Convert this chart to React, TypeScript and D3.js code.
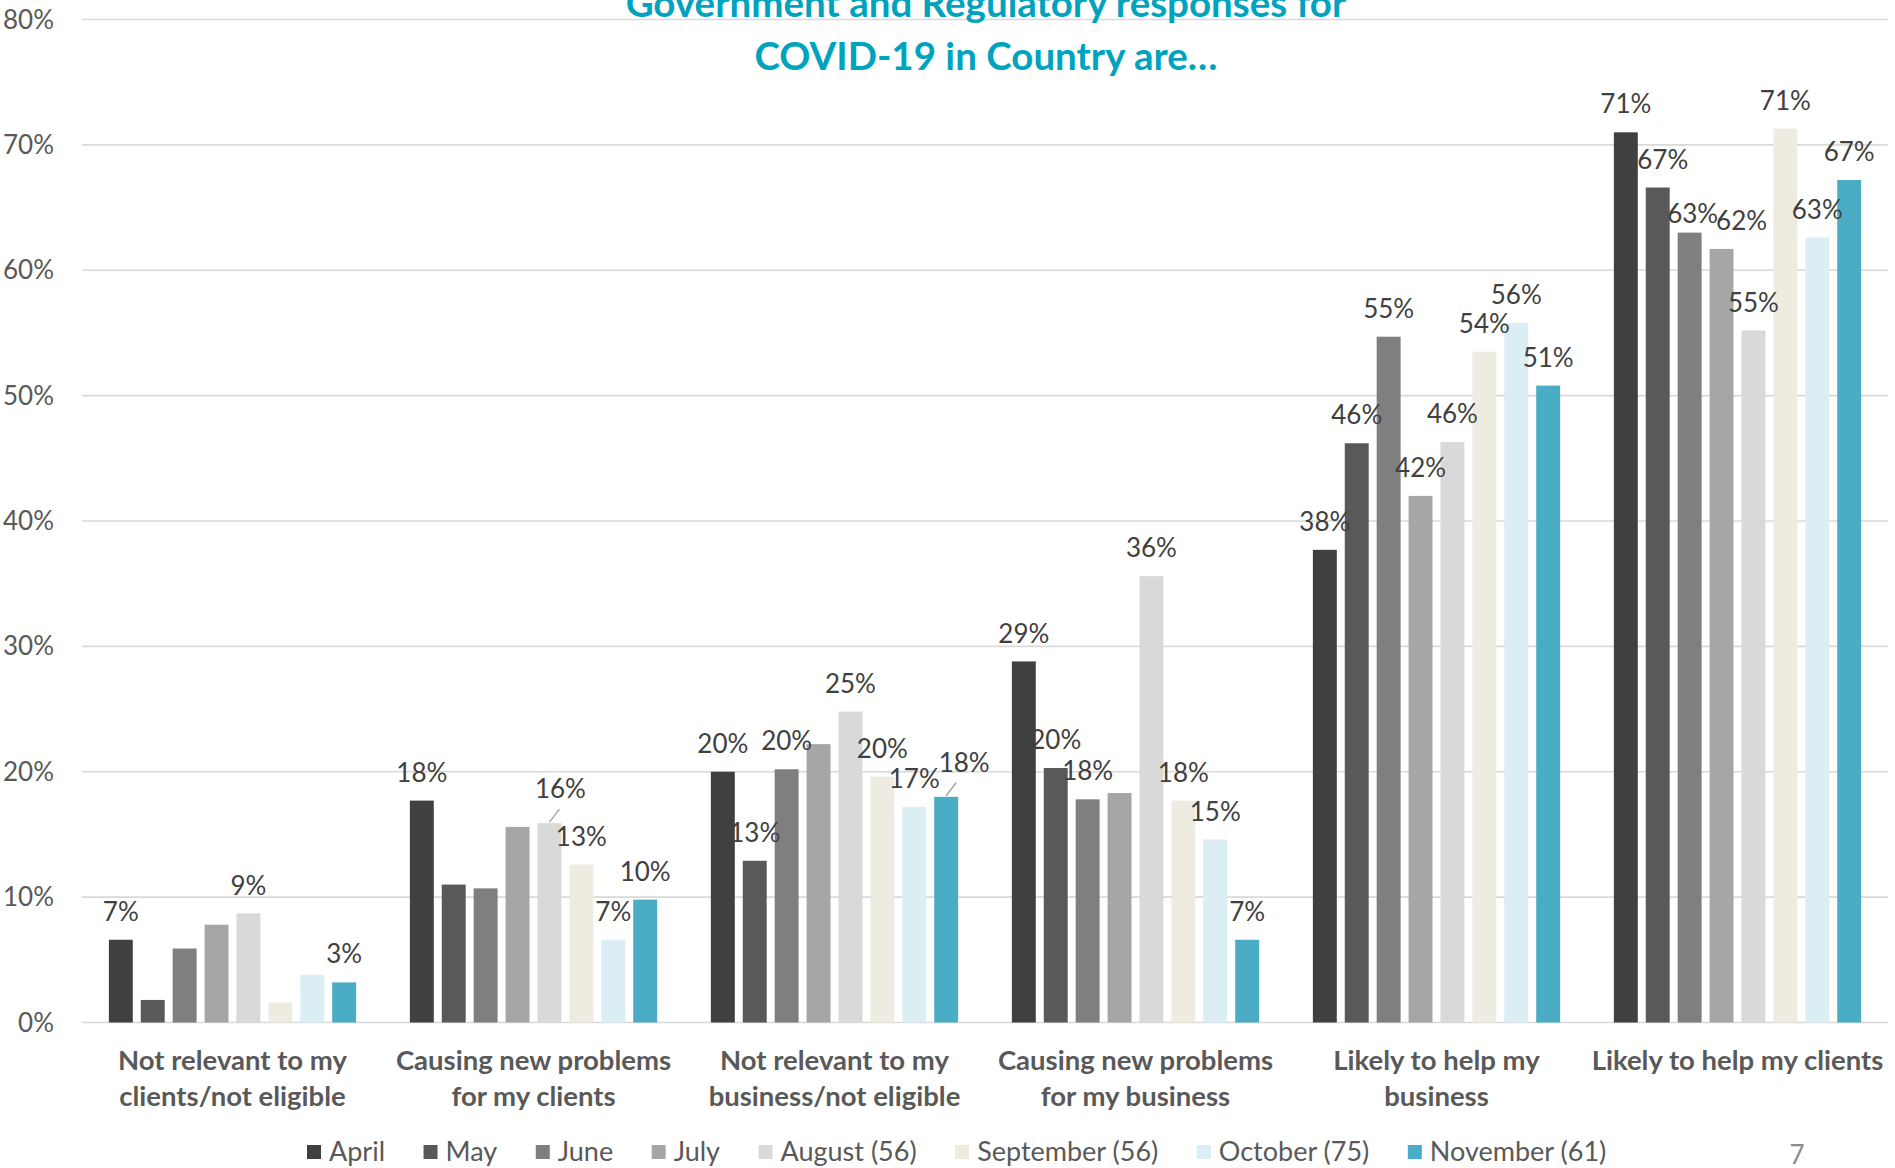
import React, { useEffect, useRef } from "react";
import * as d3 from "d3";

const categories = [
  "Not relevant to my\nclients/not eligible",
  "Causing new problems\nfor my clients",
  "Not relevant to my\nbusiness/not eligible",
  "Causing new problems\nfor my business",
  "Likely to help my\nbusiness",
  "Likely to help my clients",
];

const series = [
  "April",
  "May",
  "June",
  "July",
  "August (56)",
  "September (56)",
  "October (75)",
  "November (61)",
];

const aprilValues = [6.6, 17.7, 20.0, 28.8, 37.7, 71.0];
const mayValues = [1.8, 11.0, 12.9, 20.3, 46.2, 66.6];
const juneValues = [5.9, 10.7, 20.2, 17.8, 54.7, 63.0];
const julyValues = [7.8, 15.6, 22.2, 18.3, 42.0, 61.7];
const augustValues = [8.7, 15.9, 24.8, 35.6, 46.3, 55.2];
const septemberValues = [1.6, 12.6, 19.6, 17.7, 53.5, 71.3];
const octoberValues = [3.8, 6.6, 17.2, 14.6, 55.8, 62.6];
const novemberValues = [3.2, 9.8, 18.0, 6.6, 50.8, 67.2];

const seriesValues = [
  aprilValues,
  mayValues,
  juneValues,
  julyValues,
  augustValues,
  septemberValues,
  octoberValues,
  novemberValues,
];

const seriesColors = [
  "#404040",
  "#595959",
  "#7f7f7f",
  "#a6a6a6",
  "#d9d9d9",
  "#eeece1",
  "#dbeef4",
  "#4bacc6",
];

const yTicks = [0, 10, 20, 30, 40, 50, 60, 70, 80];

const titleLines = ["Government and Regulatory responses for", "COVID-19 in Country are\u2026"];

// data labels not displayed: [seriesIndex, categoryIndex]
const hiddenLabels = [
  [1, 0], [2, 0], [3, 0], [5, 0], [6, 0],
  [1, 1], [2, 1], [3, 1],
  [3, 2],
  [3, 3],
];

// label layout nudges (px): [seriesIndex, categoryIndex, dx, dy, leader]
const labelNudges: [number, number, number, number, boolean][] = [
  [4, 1, 11, -6, true],
  [7, 2, 18, -6, true],
  [1, 5, 5, 0, false],
  [2, 5, 3, 9, false],
  [3, 5, 20, 0, false],
];

const W = 1895;
const H = 1168;
const FONT = "Lato, 'Open Sans', sans-serif";

export default function App() {
  const ref = useRef<SVGSVGElement | null>(null);

  useEffect(() => {
    const svg = d3.select(ref.current);
    svg.selectAll("*").remove();

    const left = 82;
    const right = 1888;
    const y = d3.scaleLinear().domain([0, 80]).range([1022.5, 19.5]);
    const x0 = d3
      .scaleBand<number>()
      .domain(categories.map((_, i) => i))
      .range([left, right])
      .paddingInner(0.152)
      .paddingOuter(0.076);
    const x1 = d3
      .scaleBand<number>()
      .domain(series.map((_, i) => i))
      .range([0, x0.bandwidth()])
      .paddingInner(0.25)
      .paddingOuter(0.125);

    // gridlines
    svg
      .append("g")
      .selectAll("line")
      .data(yTicks)
      .join("line")
      .attr("x1", left)
      .attr("x2", right)
      .attr("y1", (d) => y(d))
      .attr("y2", (d) => y(d))
      .attr("stroke", "#d9d9d9")
      .attr("stroke-width", 1.6);

    // y tick labels
    svg
      .append("g")
      .selectAll("text")
      .data(yTicks)
      .join("text")
      .attr("x", 54)
      .attr("y", (d) => y(d))
      .attr("dy", "0.35em")
      .attr("text-anchor", "end")
      .attr("font-family", FONT)
      .attr("font-size", 26)
      .attr("fill", "#595959")
      .text((d) => `${d}%`);

    // bars
    const barData: { s: number; c: number; v: number }[] = [];
    seriesValues.forEach((vals, s) => vals.forEach((v, c) => barData.push({ s, c, v })));

    svg
      .append("g")
      .selectAll("rect")
      .data(barData)
      .join("rect")
      .attr("x", (d) => (x0(d.c) as number) + (x1(d.s) as number))
      .attr("y", (d) => y(d.v))
      .attr("width", x1.bandwidth())
      .attr("height", (d) => y(0) - y(d.v))
      .attr("fill", (d) => seriesColors[d.s]);

    // title
    svg
      .append("g")
      .selectAll("text")
      .data(titleLines)
      .join("text")
      .attr("x", 986)
      .attr("y", (_, i) => 17 + i * 53)
      .attr("text-anchor", "middle")
      .attr("font-family", FONT)
      .attr("font-weight", "bold")
      .attr("font-size", 38.5)
      .attr("fill", "#00a3be")
      .text((d) => d);

    // data labels
    const isHidden = (s: number, c: number) => hiddenLabels.some((h) => h[0] === s && h[1] === c);
    const nudge = (s: number, c: number) => labelNudges.find((n) => n[0] === s && n[1] === c);
    const labelData = barData.filter((d) => !isHidden(d.s, d.c));
    const lg = svg.append("g");
    labelData.forEach((d) => {
      const cx = (x0(d.c) as number) + (x1(d.s) as number) + x1.bandwidth() / 2;
      const top = y(d.v);
      const n = nudge(d.s, d.c);
      const dx = n ? n[2] : 0;
      const dy = n ? n[3] : 0;
      if (n && n[4]) {
        lg.append("line")
          .attr("x1", cx)
          .attr("y1", top - 1)
          .attr("x2", cx + 10)
          .attr("y2", top - 14)
          .attr("stroke", "#a6a6a6")
          .attr("stroke-width", 1.5);
      }
      lg.append("text")
        .attr("x", cx + dx)
        .attr("y", top - 28 + dy)
        .attr("dy", "0.35em")
        .attr("text-anchor", "middle")
        .attr("font-family", FONT)
        .attr("font-size", 26)
        .attr("fill", "#404040")
        .text(`${Math.round(d.v)}%`);
    });

    // category labels
    const cg = svg.append("g");
    categories.forEach((c, i) => {
      const cx = (x0(i) as number) + x0.bandwidth() / 2;
      c.split("\n").forEach((line, j) => {
        cg.append("text")
          .attr("x", cx)
          .attr("y", 1060 + j * 36)
          .attr("dy", "0.35em")
          .attr("text-anchor", "middle")
          .attr("font-family", FONT)
          .attr("font-weight", "bold")
          .attr("font-size", 27.5)
          .attr("fill", "#595959")
          .text(line);
      });
    });

    // legend
    const legend = svg.append("g");
    let lx = 307;
    const ly = 1152;
    series.forEach((s, i) => {
      legend
        .append("rect")
        .attr("x", lx)
        .attr("y", ly - 7)
        .attr("width", 14)
        .attr("height", 14)
        .attr("fill", seriesColors[i]);
      const t = legend
        .append("text")
        .attr("x", lx + 22)
        .attr("y", ly)
        .attr("dy", "0.35em")
        .attr("font-family", FONT)
        .attr("font-size", 27)
        .attr("fill", "#595959")
        .text(s);
      const w = (t.node() as SVGTextElement).getComputedTextLength();
      lx = lx + 22 + w + 38.5;
    });

    // page number
    svg
      .append("text")
      .attr("x", 1797)
      .attr("y", 1155)
      .attr("dy", "0.35em")
      .attr("text-anchor", "middle")
      .attr("font-family", FONT)
      .attr("font-size", 26)
      .attr("fill", "#8c8c8c")
      .text("7");
  }, []);

  return (
    <svg
      ref={ref}
      width={W}
      height={H}
      style={{ position: "absolute", left: 0, top: 0, background: "#fff" }}
    />
  );
}
